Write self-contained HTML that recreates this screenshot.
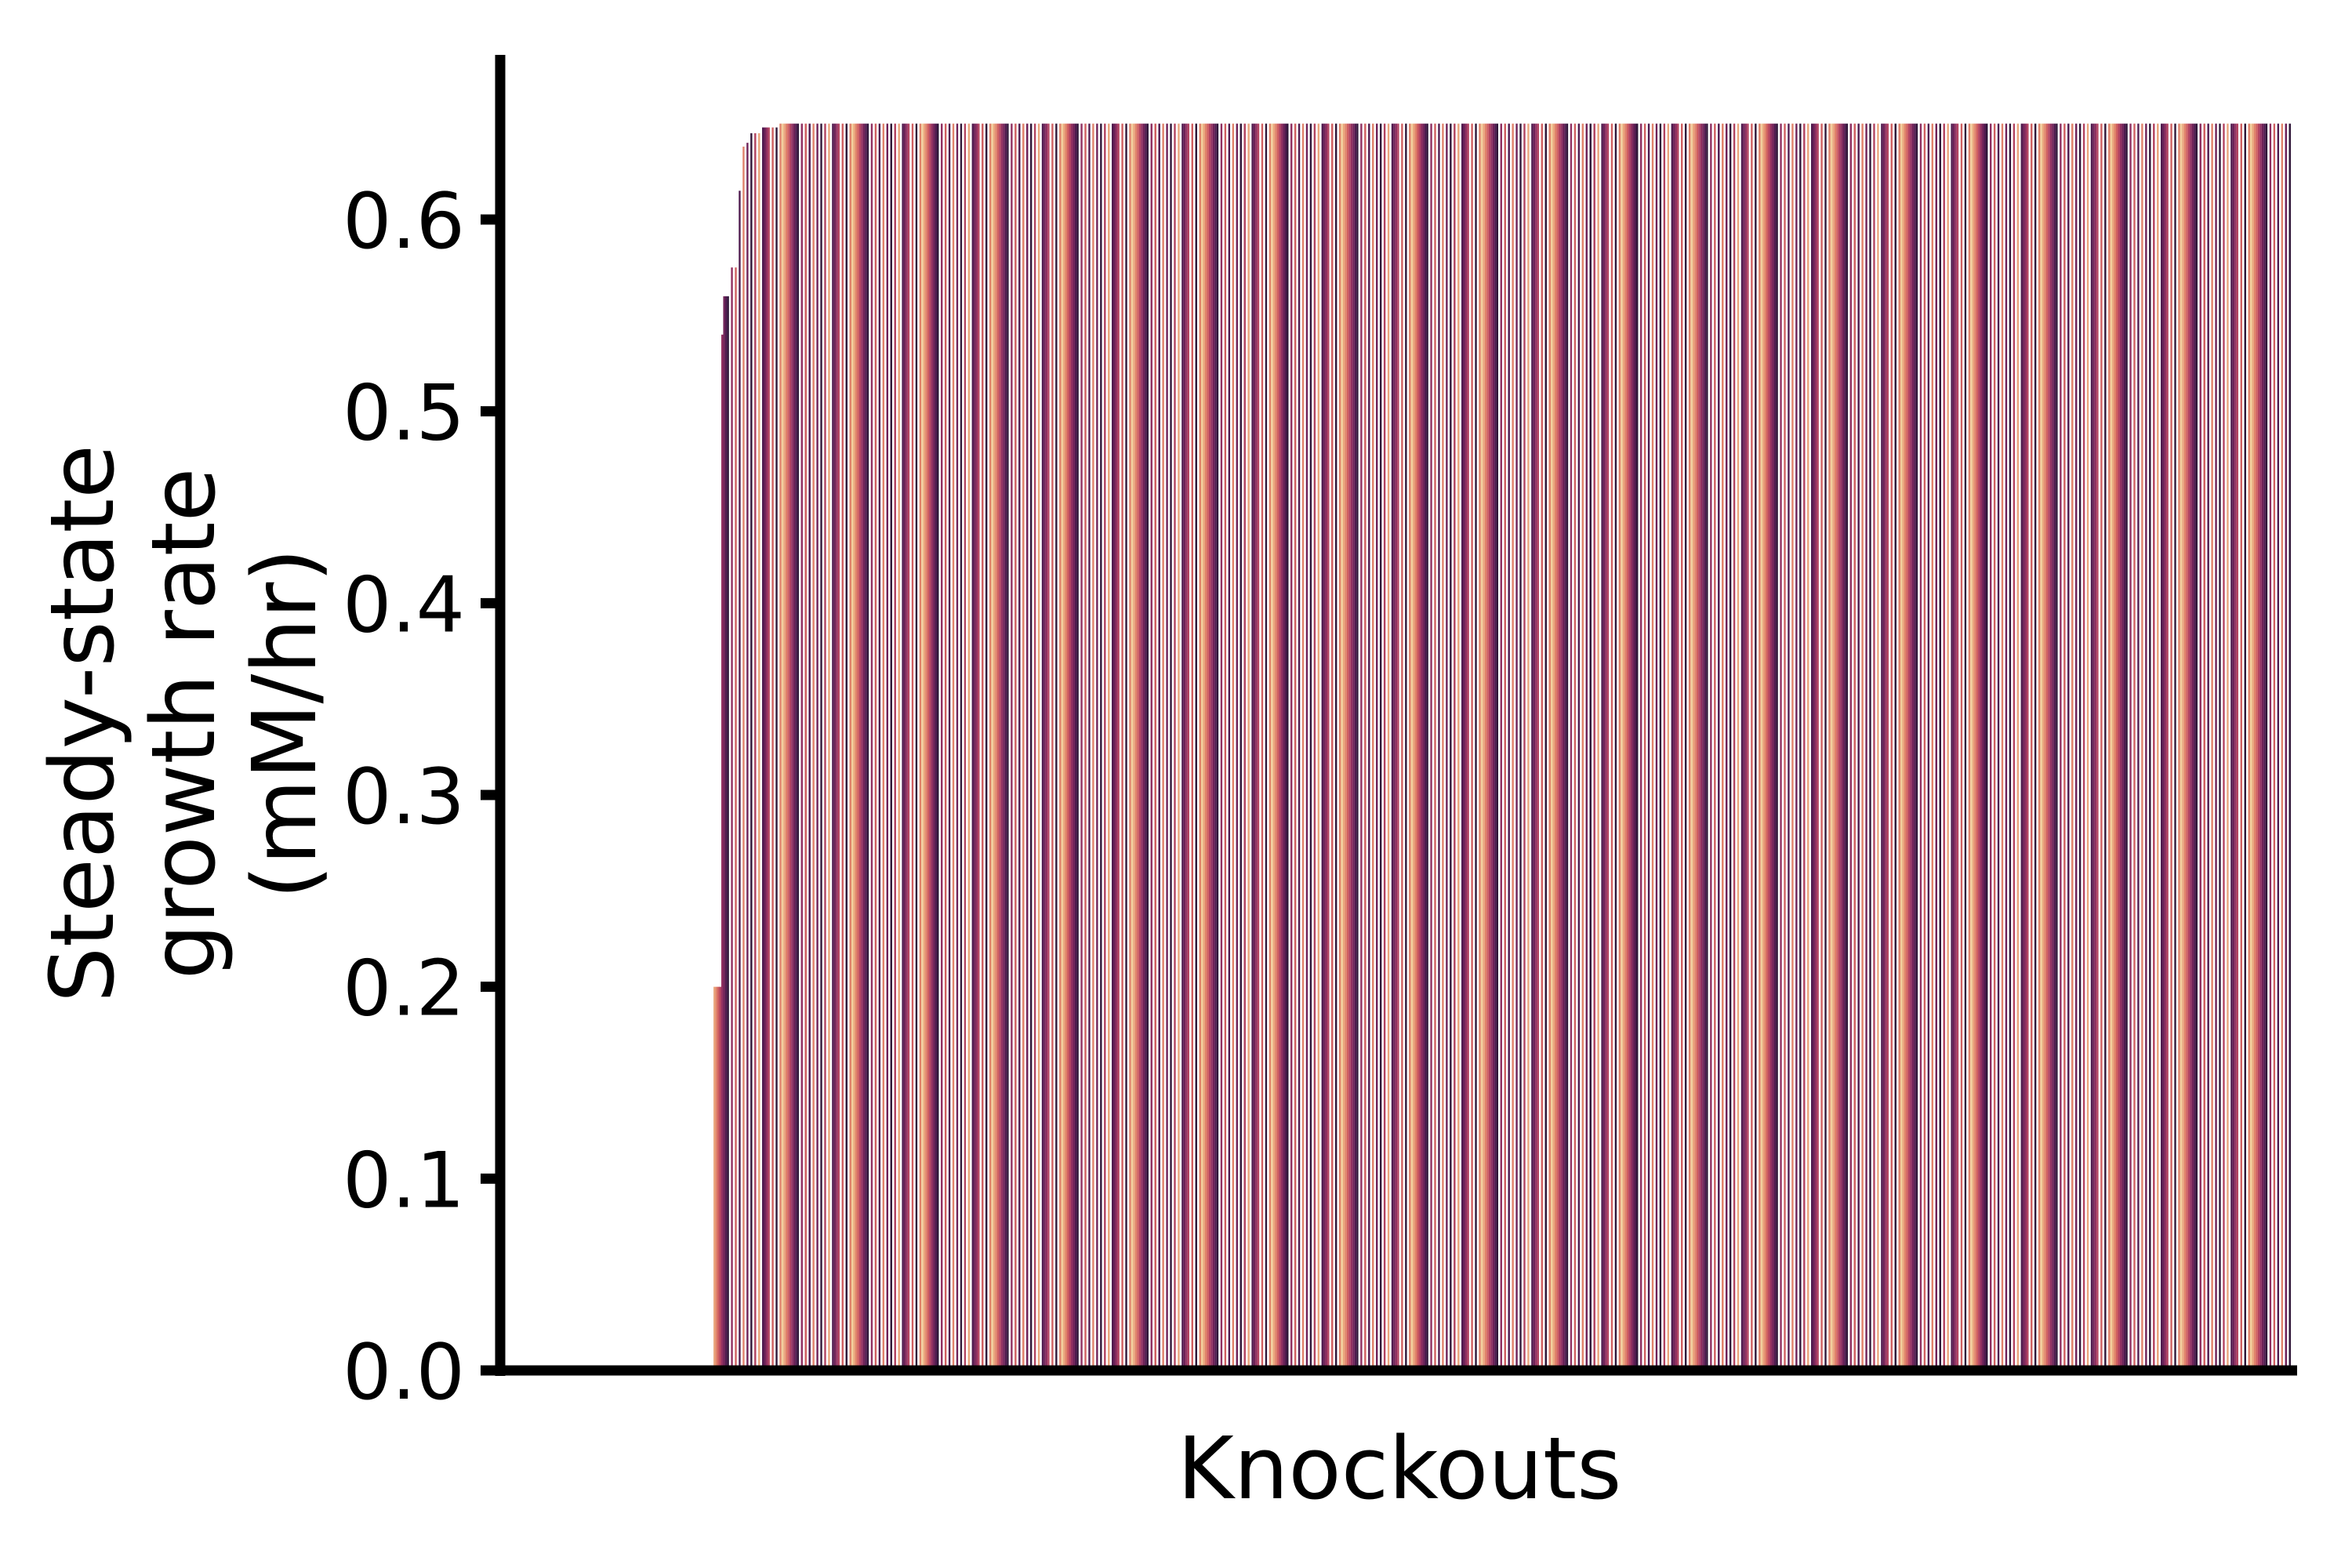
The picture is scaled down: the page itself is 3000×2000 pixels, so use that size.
<!DOCTYPE html>
<html><head><meta charset="utf-8"><style>
html,body{margin:0;padding:0;background:#fff;}
svg{display:block;}
text{font-family:"DejaVu Sans","Liberation Sans",sans-serif;fill:#000;}
</style></head><body>
<svg id="chart" width="3000" height="2000" viewBox="0 0 3000 2000" xmlns="http://www.w3.org/2000/svg">
<g id="bars"></g>
<g id="yticks"></g>
<line x1="638" y1="70" x2="638" y2="1755" stroke="#000" stroke-width="13"/>
<line x1="632" y1="1748" x2="2930" y2="1748" stroke="#000" stroke-width="13"/>
<text x="1785" y="1911" font-size="110" text-anchor="middle">Knockouts</text>
<g transform="translate(0,923) rotate(-90)" font-size="112" text-anchor="middle">
<text x="0" y="144">Steady-state</text>
<text x="0" y="273">growth rate</text>
<text x="0" y="402">(mM/hr)</text>
</g>
</svg>
<script>
const zeroCount = 109;
const rampValues = [0.2,0.2,0.2,0.2,0.54,0.56,0.56,0.56,0.56,0.575,0.575,0.575,0.615,0.615,0.615,0.638,0.638,0.64,0.64,0.645,0.645,0.645,0.645,0.645,0.645,0.648,0.648,0.648,0.648,0.648,0.648,0.648,0.648];
const plateauCount = 779;
const plateauValue = 0.65;
const yTicks = [0,0.1,0.2,0.3,0.4,0.5,0.6];
const yTickLabels = ["0.0","0.1","0.2","0.3","0.4","0.5","0.6"];

const values = [];
for (let i=0;i<zeroCount;i++) values.push(0);
rampValues.forEach(v=>values.push(v));
for (let i=0;i<plateauCount;i++) values.push(plateauValue);

const palette = ["#2f1638","#4f1a4f","#6e2157","#902f60","#b24360","#cf5f60","#e0826a","#eaa67c","#f2cf9c","#ffffff"];
const colorCycle = [8,7,6,5,4,3,2,1,0,9,3,9,5,9,1,9,6,9,2,9,0,9,4,9,7,9,1,2,3,4,9,5,9,0,9,6];
const X0 = 640, X1 = 2922;
const Y0 = 1748, YPER = (1748-280)/0.6;
const slot = (X1 - X0) / values.length;
const xScale = i => X0 + i*slot;
const yScale = v => Y0 - v*YPER;
const NS = "http://www.w3.org/2000/svg";
const bg = document.getElementById('bars');
values.forEach((v,i)=>{
  if (v<=0) return;
  const r = document.createElementNS(NS,'rect');
  
  
  const y = yScale(v);
  r.setAttribute('x', xScale(i));
  r.setAttribute('width', slot);
  r.setAttribute('y', y);
  r.setAttribute('height', Y0 - y);
  r.setAttribute('fill', palette[colorCycle[i % colorCycle.length]]);
  bg.appendChild(r);
});
const tg = document.getElementById('yticks');
yTicks.forEach((t,k)=>{
  const y = yScale(t);
  const l = document.createElementNS(NS,'line');
  
  
  l.setAttribute('x1', 613); l.setAttribute('x2', 638);
  l.setAttribute('y1', y); l.setAttribute('y2', y);
  l.setAttribute('stroke', '#000'); l.setAttribute('stroke-width', 13);
  tg.appendChild(l);
  const tx = document.createElementNS(NS,'text');
  
  
  tx.setAttribute('x', 593); tx.setAttribute('y', y+36);
  tx.setAttribute('font-size', 98); tx.setAttribute('text-anchor', 'end');
  tx.textContent = yTickLabels[k];
  tg.appendChild(tx);
});
</script>
</body></html>
